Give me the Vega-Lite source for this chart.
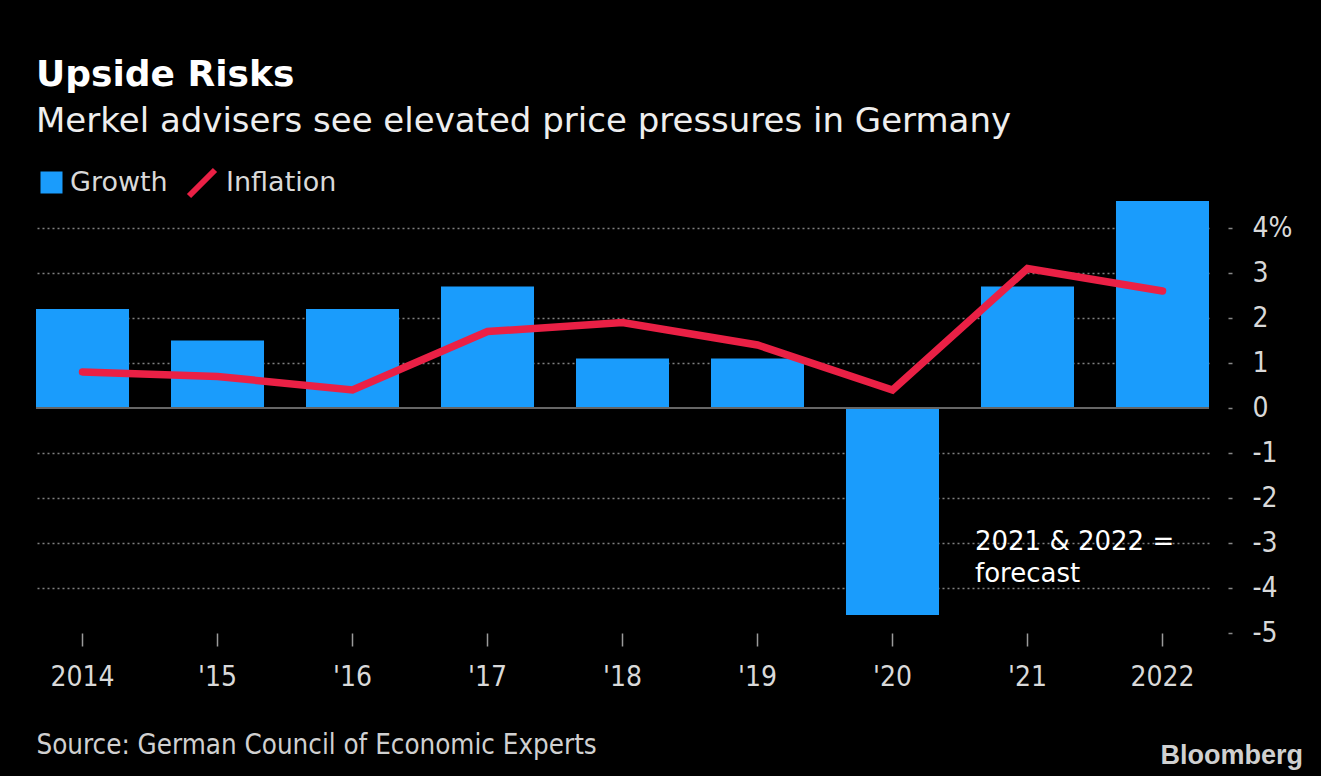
{
  "$schema": "https://vega.github.io/schema/vega-lite/v6.json",
  "width": 1173,
  "height": 432,
  "autosize": {"type": "none"},
  "padding": {"left": 36, "top": 201, "right": 112, "bottom": 143},
  "background": "#000000",
  "config": {"view": {"stroke": null}},
  "title": {
    "text": "Upside Risks",
    "subtitle": "Merkel advisers see elevated price pressures in Germany",
    "anchor": "start",
    "frame": "group",
    "orient": "top",
    "offset": 27,
    "font": "DejaVu Sans",
    "fontSize": 36,
    "fontWeight": "bold",
    "color": "#ffffff",
    "subtitleFont": "DejaVu Sans",
    "subtitleFontSize": 34,
    "subtitleColor": "#eeeeee",
    "subtitlePadding": 11
  },
  "data": {
    "values": [
      {"year": "2014", "growth": 2.2, "inflation": 0.8},
      {"year": "2015", "growth": 1.5, "inflation": 0.7},
      {"year": "2016", "growth": 2.2, "inflation": 0.4},
      {"year": "2017", "growth": 2.7, "inflation": 1.7},
      {"year": "2018", "growth": 1.1, "inflation": 1.9},
      {"year": "2019", "growth": 1.1, "inflation": 1.4},
      {"year": "2020", "growth": -4.6, "inflation": 0.4},
      {"year": "2021", "growth": 2.7, "inflation": 3.1},
      {"year": "2022", "growth": 4.6, "inflation": 2.6}
    ]
  },
  "layer": [
    {
      "mark": {"type": "bar"},
      "encoding": {
        "x": {
          "field": "year",
          "type": "ordinal",
          "scale": {"paddingInner": 0.311, "paddingOuter": 0},
          "axis": {
            "orient": "bottom",
            "domain": false,
            "grid": false,
            "tickSize": 13,
            "tickColor": "#9a9a9a",
            "tickWidth": 1.5,
            "labelPadding": 17,
            "labelAngle": 0,
            "labelFont": "DejaVu Sans Condensed",
            "labelFontSize": 28,
            "labelColor": "#d9d9d9",
            "labelExpr": "datum.value == '2014' || datum.value == '2022' ? datum.value : \"'\" + substring(datum.value, 2, 4)",
            "title": "Source: German Council of Economic Experts",
            "titleAnchor": "start",
            "titleAlign": "left",
            "titleX": 0,
            "titleY": 120,
            "titleBaseline": "alphabetic",
            "titleFont": "DejaVu Sans Condensed",
            "titleFontSize": 27.5,
            "titleFontWeight": "normal",
            "titleColor": "#d0d0d0"
          }
        },
        "y": {
          "field": "growth",
          "type": "quantitative",
          "scale": {"domain": [-5, 4.6], "nice": false, "zero": false},
          "axis": {
            "orient": "right",
            "offset": 19,
            "values": [-5, -4, -3, -2, -1, 0, 1, 2, 3, 4],
            "domain": false,
            "tickSize": 4,
            "tickColor": "#888888",
            "tickWidth": 1.5,
            "labelPadding": 20,
            "labelAlign": "left",
            "labelFont": "DejaVu Sans Condensed",
            "labelFontSize": 28,
            "labelColor": "#d9d9d9",
            "labelExpr": "datum.value == 4 ? '4%' : '' + datum.value",
            "grid": true,
            "gridColor": "#808080",
            "gridDash": [2, 3],
            "gridWidth": 1.5,
            "gridOpacity": {"condition": {"test": "datum.value == 0 || datum.value == -5", "value": 0}, "value": 1},
            "title": "Bloomberg",
            "titleAngle": 0,
            "titleAlign": "left",
            "titleBaseline": "alphabetic",
            "titleX": -68,
            "titleY": 562,
            "titleFont": "Liberation Sans",
            "titleFontWeight": "bold",
            "titleFontSize": 27,
            "titleColor": "#d0d0d0"
          }
        },
        "fill": {
          "datum": "Growth",
          "scale": {"range": ["#1a9cfc"]},
          "legend": {
            "orient": "none",
            "legendX": 2,
            "legendY": -32,
            "title": null,
            "symbolType": "square",
            "symbolSize": 484,
            "symbolStrokeWidth": 0,
            "labelFont": "DejaVu Sans",
            "labelFontSize": 27,
            "labelColor": "#d9d9d9",
            "labelOffset": 5,
            "padding": 0
          }
        }
      }
    },
    {
      "data": {"values": [{}]},
      "mark": {"type": "rule", "color": "#666666", "strokeWidth": 2},
      "encoding": {"y": {"datum": 0}}
    },
    {
      "mark": {"type": "line", "strokeWidth": 7.5, "strokeCap": "round", "strokeJoin": "miter"},
      "encoding": {
        "x": {"field": "year", "type": "ordinal"},
        "y": {"field": "inflation", "type": "quantitative"},
        "stroke": {
          "datum": "Inflation",
          "scale": {"range": ["#ea2045"]},
          "legend": {
            "orient": "none",
            "legendX": 150,
            "legendY": -34,
            "title": null,
            "symbolType": "M-1,1L1,-1",
            "symbolSize": 676,
            "symbolStrokeWidth": 6,
            "labelFont": "DejaVu Sans",
            "labelFontSize": 27,
            "labelColor": "#d9d9d9",
            "labelOffset": 8,
            "padding": 0
          }
        }
      }
    },
    {
      "data": {"values": [{}]},
      "mark": {"type": "text", "align": "left", "baseline": "alphabetic", "dx": -6, "font": "DejaVu Sans", "fontSize": 26, "color": "#ffffff", "lineHeight": 32},
      "encoding": {
        "x": {"datum": "2021", "bandPosition": 0},
        "y": {"datum": -3.15},
        "text": {"value": ["2021 & 2022 =", "forecast"]}
      }
    }
  ]
}
